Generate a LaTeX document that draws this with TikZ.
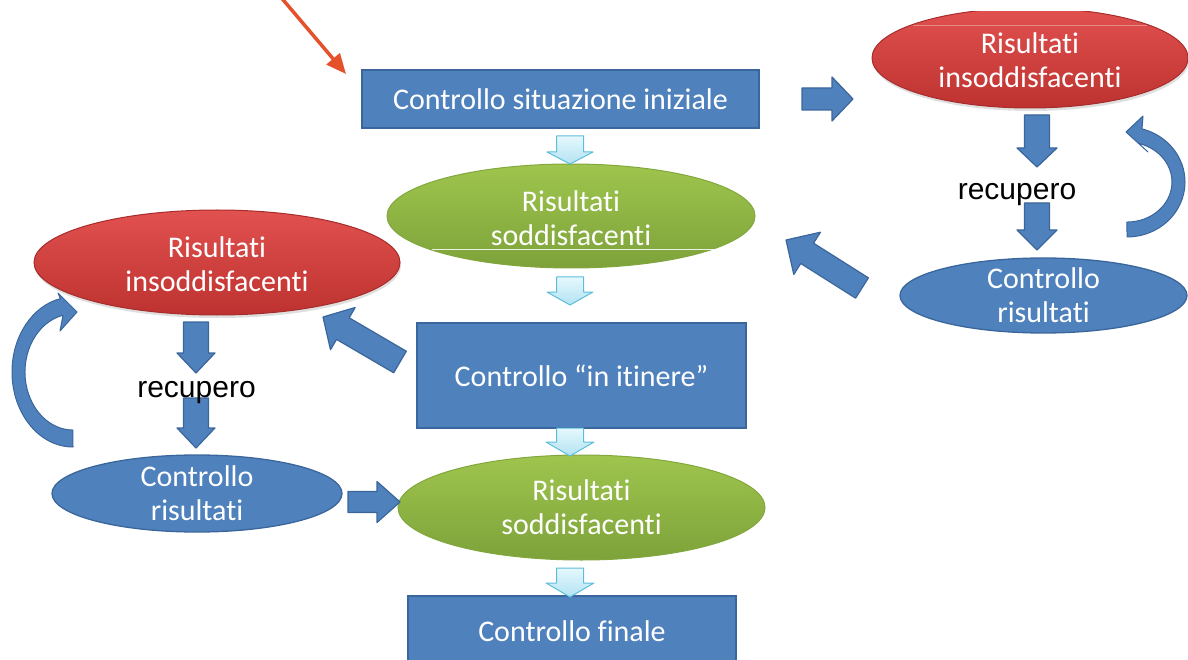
\documentclass[tikz,border=0pt]{standalone}
\usepackage{fontspec}
\setmainfont{Carlito}[Ligatures=NoCommon]
\newfontfamily\labelfont{Liberation Sans}
\usetikzlibrary{shapes.geometric,calc,arrows.meta,shadows}

\definecolor{boxblue}{HTML}{4F81BD}
\definecolor{boxedge}{HTML}{3B669B}
\definecolor{redtop}{HTML}{E1514F}
\definecolor{redbot}{HTML}{BD3230}
\definecolor{rededge}{HTML}{A62D2B}
\definecolor{greentop}{HTML}{9FC54E}
\definecolor{greenbot}{HTML}{7DA23A}
\definecolor{paletop}{HTML}{E6F8FD}
\definecolor{palebot}{HTML}{B2E3F3}
\definecolor{paleedge}{HTML}{5CBDDB}
\definecolor{pointer}{HTML}{E4512B}

% block arrow: style, tail, tip, shaft half-width, head half-width, head length
\newcommand\blockarrow[6]{%
  \coordinate (bahead) at ($(#3)!#6!(#2)$);
  \path[#1] ($(#2)!#4!90:(#3)$) -- ($(bahead)!#4!90:(#3)$) -- ($(bahead)!#5!90:(#3)$) -- (#3)
    -- ($(bahead)!#5!-90:(#3)$) -- ($(bahead)!#4!-90:(#3)$) -- ($(#2)!#4!-90:(#3)$) -- cycle;
}

\begin{document}
\begin{tikzpicture}[x=1pt,y=-1pt,
  lbl/.style={font=\fontsize{30}{34}\selectfont, text=white, align=center},
  stepbox/.style={rectangle, draw=boxedge, line width=1.3pt, fill=boxblue, inner sep=0pt, lbl},
  oval/.style={ellipse, inner sep=0pt, line width=1pt},
  goodoval/.style={oval, top color=greentop, bottom color=greenbot, draw=greenbot!85!greentop},
  badoval/.style={oval, top color=redtop, bottom color=redbot, draw=rededge,
    drop shadow={opacity=0.25, shadow xshift=1pt, shadow yshift=-3pt}},
  checkoval/.style={oval, fill=boxblue, draw=boxedge, line width=1.3pt},
  darkarrow/.style={fill=boxblue, draw=boxedge, line width=1.2pt, line join=round},
  palearrow/.style={top color=paletop, bottom color=palebot, draw=paleedge, line width=1pt, line join=round},
  curvedarrow/.style={fill=boxblue, draw=boxedge, line width=1pt, line join=round},
  recupero/.style={font=\labelfont\fontsize{30}{34}\selectfont, text=black, anchor=base, inner sep=0pt},
  glint/.style={white, line width=0.8pt},
]
\useasboundingbox (0,0) rectangle (1188,660);
\clip (0,0) rectangle (1188,660);

% rectangular steps
\node[stepbox, minimum width=397pt, minimum height=58pt] (init) at (560.5,99) {Controllo situazione iniziale};
\node[stepbox, minimum width=329pt, minimum height=105pt] (itinere) at (581.5,375.5) {Controllo “in itinere”};
\node[stepbox, minimum width=328pt, minimum height=70pt] (final) at (572,631) {Controllo finale};

% outcome ovals
\node[goodoval, minimum width=368pt, minimum height=104pt,
  label={[lbl, yshift=-2pt]center:{Risultati\\soddisfacenti}}] (good1) at (571,216) {};
\draw[glint, opacity=0.85] ($(good1.center)+(-139,33)$) -- ($(good1.center)+(156,33)$);
\node[goodoval, minimum width=367pt, minimum height=105pt,
  label={[lbl]center:{Risultati\\soddisfacenti}}] (good2) at (581.5,507.5) {};

\begin{scope}
  \clip (0,12) rectangle (1188,660);
  \node[badoval, minimum width=316pt, minimum height=100pt,
    label={[lbl, yshift=-2pt]center:{Risultati\\insoddisfacenti}}] (badR) at (1030,58) {};
  \draw[glint, opacity=0.35] ($(badR.center)+(-117,-33)$) -- ($(badR.center)+(117,-33)$);
\end{scope}
\node[badoval, minimum width=366pt, minimum height=105pt,
  label={[lbl, yshift=-2pt]center:{Risultati\\insoddisfacenti}}] (badL) at (217,262.5) {};

\node[checkoval, minimum width=287pt, minimum height=75pt,
  label={[lbl]center:{Controllo\\risultati}}] (checkR) at (1043.5,295.5) {};
\node[checkoval, minimum width=290pt, minimum height=77pt,
  label={[lbl]center:{Controllo\\risultati}}] (checkL) at (197,493.5) {};

% main flow (pale arrows)
\coordinate (p1t) at (570,136); \coordinate (p1h) at (570,164);
\coordinate (p2t) at (570,277); \coordinate (p2h) at (570,305);
\coordinate (p3t) at (570,428); \coordinate (p3h) at (570,456);
\coordinate (p4t) at (570,568); \coordinate (p4h) at (570,597);
\blockarrow{palearrow}{p1t}{p1h}{13.5pt}{23pt}{12pt}
\blockarrow{palearrow}{p2t}{p2h}{13.5pt}{23pt}{13pt}
\blockarrow{palearrow}{p3t}{p3h}{13.5pt}{24pt}{14pt}
\blockarrow{palearrow}{p4t}{p4h}{13.5pt}{24pt}{14pt}

% right branch
\coordinate (r1t) at (802,99);   \coordinate (r1h) at (853,99);
\coordinate (r2t) at (1037,115); \coordinate (r2h) at (1037,167);
\coordinate (r3t) at (1037,203); \coordinate (r3h) at (1037,250);
\coordinate (r4t) at (862,288);  \coordinate (r4h) at (786,240);
\blockarrow{darkarrow}{r1t}{r1h}{11pt}{22pt}{21pt}
\blockarrow{darkarrow}{r2t}{r2h}{12.5pt}{20pt}{19pt}
\blockarrow{darkarrow}{r3t}{r3h}{12.5pt}{20pt}{20pt}
\blockarrow{darkarrow}{r4t}{r4h}{12pt}{25pt}{25pt}

% left branch
\coordinate (l1t) at (400,362);  \coordinate (l1h) at (323,317);
\coordinate (l2t) at (196,322);  \coordinate (l2h) at (196,373);
\coordinate (l3t) at (196,398);  \coordinate (l3h) at (196,448);
\coordinate (l4t) at (348,502);  \coordinate (l4h) at (400,502);
\blockarrow{darkarrow}{l1t}{l1h}{12.5pt}{24.5pt}{23pt}
\blockarrow{darkarrow}{l2t}{l2h}{12.5pt}{19pt}{20pt}
\blockarrow{darkarrow}{l3t}{l3h}{12.5pt}{19pt}{20pt}
\blockarrow{darkarrow}{l4t}{l4h}{10.5pt}{20.5pt}{23pt}

% looping arrows back to the unsatisfactory results
\path[curvedarrow] (1127,237) arc[start angle=90, end angle=-75, x radius=58, y radius=55]
  -- (1143,116) -- (1126,132) -- (1148,152)
  -- (1138.6,143.4) arc[start angle=-75, end angle=90, x radius=45, y radius=40] -- cycle;
\path[curvedarrow] (73,447) arc[start angle=90, end angle=258, x radius=61, y radius=75]
  -- (58,293) -- (77,312) -- (60,331)
  -- (63,315.3) arc[start angle=258, end angle=90, x radius=48, y radius=58] -- cycle;

% step labels
\node[recupero] (recR) at (1017,200) {recupero};
\node[recupero] (recL) at (196.5,397) {recupero};

% pointer to the first step
\coordinate (ptail) at (279,-5);
\coordinate (ptip) at (346,74);
\draw[pointer, line width=3.5pt, -{Triangle[length=20pt,width=17pt]}] (ptail) -- (ptip);
\end{tikzpicture}
\end{document}
